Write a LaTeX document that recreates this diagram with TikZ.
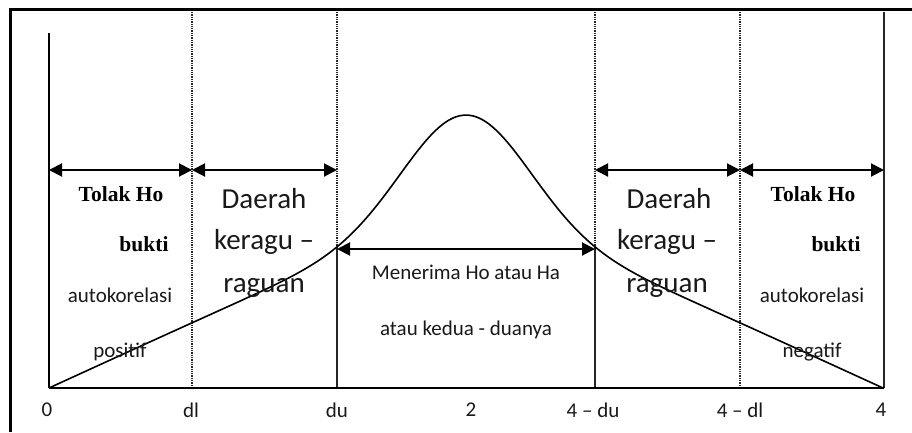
\documentclass[tikz,border=0pt]{standalone}
\usepackage{fontspec}
\setmainfont{Carlito}
\newfontfamily\serifbold{Liberation Serif}
\usetikzlibrary{arrows.meta}

\begin{document}
\begin{tikzpicture}[
  x=1pt, y=-1pt, inner sep=0pt,
  declare function={hbell(\u)=195*(4.213-sqrt(\u*\u+0.36))/4.213+105.7*exp(-\u*\u/0.7648);},
  spanarrow/.style={{Triangle[length=13pt,width=13pt]}-{Triangle[length=13pt,width=13pt]}, line width=2pt},
  dotbound/.style={densely dotted, line width=1.3pt, black!85},
  solidbound/.style={line width=1.4pt, black!85},
  dwcurve/.style={line width=1.6pt},
  bigtxt/.style={font=\fontsize{29}{34}\selectfont, text=black!90},
  txt/.style={font=\fontsize{21}{25}\selectfont, text=black!90},
  tolak/.style={font=\serifbold\bfseries\fontsize{21.5}{25}\selectfont},
  ticklbl/.style={font=\fontsize{21}{25}\selectfont, text=black!90},
]
  \useasboundingbox (0,0) rectangle (912,432);

  % frame
  \draw[line width=3pt] (10,432) -- (10,9) -- (912,9);

  % points on the axis
  \coordinate (o)    at (49,388);
  \coordinate (dl)   at (192,388);
  \coordinate (du)   at (337,388);
  \coordinate (udu)  at (595,388);
  \coordinate (udl)  at (740,388);
  \coordinate (four) at (884,388);

  % region borders
  \draw[dotbound] (192,12) -- (dl);
  \draw[dotbound] (337,12) -- (337,247);
  \draw[dotbound] (595,12) -- (595,247);
  \draw[dotbound] (740,12) -- (udl);
  \draw[solidbound] (337,247) coordinate (ducut) -- (du);
  \draw[solidbound] (595,247) coordinate (uducut) -- (udu);
  \draw[solidbound] (884,12) -- (four);
  \draw[line width=1.5pt] (49,33) -- (o);
  \draw[line width=2pt] (o) -- (four);

  % Durbin-Watson curve
  \draw[dwcurve] plot[domain=49:884, samples=200, smooth] (\x, {388-hbell((\x-466)/100)});

  % ranges
  \coordinate (a0) at (49,170);
  \coordinate (a1) at (192,170);
  \coordinate (a2) at (337,170);
  \coordinate (a3) at (595,170);
  \coordinate (a4) at (740,170);
  \coordinate (a5) at (884,170);
  \draw[spanarrow] (a0) -- (a1);
  \draw[spanarrow] (a1) -- (a2);
  \draw[spanarrow] (a3) -- (a4);
  \draw[spanarrow] (a4) -- (a5);
  \draw[spanarrow] (337,249) coordinate (m0) -- (595,249) coordinate (m1);

  % left region
  \node[tolak] (tolakL) at (121,194) {Tolak Ho};
  \node[tolak] (buktiL) at (144,244) {bukti};
  \node[txt] (autoL) at (120,295) {autokorelasi};
  \node[txt] (posL) at (120,352) {positif};

  \node[bigtxt] (daerahL) at (264,199) {Daerah};
  \node[bigtxt] (keraguL) at (264,242) {keragu --};
  \node[bigtxt] (raguanL) at (264,288) {raguan};

  % middle region
  \node[txt] (terima) at (466,272) {Menerima Ho atau Ha};
  \node[txt] (kedua) at (466,330) {atau kedua - duanya};

  % right region
  \node[bigtxt] (daerahR) at (669,199) {Daerah};
  \node[bigtxt] (keraguR) at (667,242) {keragu --};
  \node[bigtxt] (raguanR) at (667,288) {raguan};

  \node[tolak] (tolakR) at (813,194) {Tolak Ho};
  \node[tolak] (buktiR) at (836,244) {bukti};
  \node[txt] (autoR) at (812,295) {autokorelasi};
  \node[txt] (negR) at (812,352) {negatif};

  % axis labels
  \node[ticklbl] (t0) at (47,410) {0};
  \node[ticklbl] (t1) at (191,410) {dl};
  \node[ticklbl] (t2) at (337,410) {du};
  \node[ticklbl] (t3) at (471,410) {2};
  \node[ticklbl] (t4) at (593,410) {4 -- du};
  \node[ticklbl] (t5) at (740,410) {4 -- dl};
  \node[ticklbl] (t6) at (881,410) {4};
\end{tikzpicture}
\end{document}
